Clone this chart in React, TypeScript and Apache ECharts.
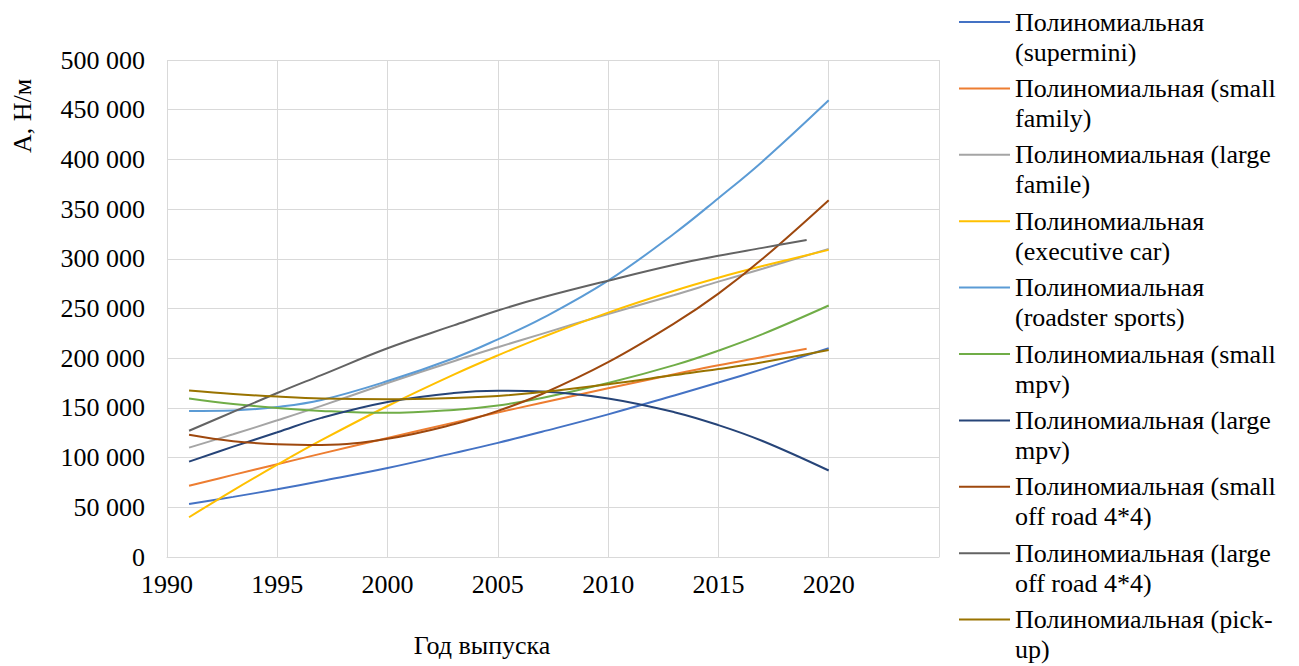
import React, { useEffect, useRef } from "react";
import * as echarts from "echarts";

const FONT = "'Liberation Serif', 'Times New Roman', serif";

const yearsFull = [1991, 1993, 1995, 1997, 2000, 2003, 2005, 2007, 2010, 2013, 2015, 2017, 2020];
const yearsTo2019 = [1991, 1993, 1995, 1997, 2000, 2003, 2005, 2007, 2010, 2013, 2015, 2017, 2019];

const seriesNames = [
  "Полиномиальная (supermini)",
  "Полиномиальная (small family)",
  "Полиномиальная (large famile)",
  "Полиномиальная (executive car)",
  "Полиномиальная (roadster sports)",
  "Полиномиальная (small mpv)",
  "Полиномиальная (large mpv)",
  "Полиномиальная (small off road 4*4)",
  "Полиномиальная (large off road 4*4)",
  "Полиномиальная (pick-up)",
];

const legendLabels = [
  "Полиномиальная\n(supermini)",
  "Полиномиальная (small\nfamily)",
  "Полиномиальная (large\nfamile)",
  "Полиномиальная\n(executive car)",
  "Полиномиальная\n(roadster sports)",
  "Полиномиальная (small\nmpv)",
  "Полиномиальная (large\nmpv)",
  "Полиномиальная (small\noff road 4*4)",
  "Полиномиальная (large\noff road 4*4)",
  "Полиномиальная (pick-\nup)",
];

const colors = [
  "#4472C4",
  "#ED7D31",
  "#A5A5A5",
  "#FFC000",
  "#5B9BD5",
  "#70AD47",
  "#264478",
  "#9E480E",
  "#636363",
  "#997300",
];

const supermini = [53300, 60500, 68200, 76500, 89500, 104500, 114800, 126000, 143500, 162500, 175500, 189000, 210000];
const smallFamily = [71600, 82600, 93400, 104000, 119700, 135200, 145300, 155200, 169700, 183800, 193000, 201200, 209500];
const largeFamile = [110000, 123500, 137500, 152000, 175000, 197000, 211000, 224500, 244500, 263500, 277000, 290000, 310000];
const executiveCar = [40000, 67100, 92900, 117500, 151900, 183500, 202900, 221000, 245900, 267900, 281000, 292700, 309000];
const roadsterSports = [147000, 147500, 151000, 158000, 177000, 200000, 219000, 240000, 278000, 325500, 361000, 398000, 459500];
const smallMpv = [159500, 154000, 150000, 147000, 145000, 148000, 152500, 160000, 175000, 193000, 207600, 224200, 253000];
const largeMpv = [96000, 111000, 125500, 140000, 156000, 165000, 167300, 166500, 159500, 145700, 132700, 116700, 87000];
const smallOffRoad = [123000, 116500, 113500, 112800, 119000, 133500, 147000, 164000, 196000, 235000, 265000, 300000, 359000];
const largeOffRoad = [127000, 146000, 165000, 183000, 210000, 233000, 248000, 261000, 278000, 294000, 303000, 311000, 319000];
const pickUp = [167500, 164000, 161400, 159500, 158700, 160000, 162000, 166000, 173900, 183000, 189100, 196000, 208300];

const seriesValues = [
  supermini,
  smallFamily,
  largeFamile,
  executiveCar,
  roadsterSports,
  smallMpv,
  largeMpv,
  smallOffRoad,
  largeOffRoad,
  pickUp,
];
const seriesYears = [
  yearsFull,
  yearsTo2019,
  yearsFull,
  yearsFull,
  yearsFull,
  yearsFull,
  yearsFull,
  yearsFull,
  yearsTo2019,
  yearsFull,
];

const fmt = (v: number) =>
  String(v).replace(/\B(?=(\d{3})+(?!\d))/g, " ");

export default function App() {
  const ref = useRef<HTMLDivElement>(null);
  useEffect(() => {
    if (!ref.current) return;
    const chart = echarts.init(ref.current, null, { renderer: "svg" });
    const labelMap: Record<string, string> = {};
    seriesNames.forEach((n, i) => (labelMap[n] = legendLabels[i]));
    chart.setOption({
      animation: false,
      backgroundColor: "#fff",
      color: colors,
      grid: { left: 167, right: 360, top: 60, bottom: 109, containLabel: false },
      xAxis: {
        type: "value",
        min: 1990,
        max: 2025,
        interval: 5,
        axisLine: { show: true, lineStyle: { color: "#d9d9d9", width: 1 } },
        axisTick: { show: false },
        splitLine: { show: true, lineStyle: { color: "#d9d9d9", width: 1 } },
        axisLabel: {
          margin: 14,
          color: "#000",
          fontFamily: FONT,
          fontSize: 26,
          formatter: (v: number) => (v === 2025 ? "" : String(v)),
        },
      },
      yAxis: {
        type: "value",
        min: 0,
        max: 500000,
        interval: 50000,
        axisLine: { show: false },
        axisTick: { show: false },
        splitLine: { show: true, lineStyle: { color: "#d9d9d9", width: 1 } },
        axisLabel: {
          margin: 22,
          color: "#000",
          fontFamily: FONT,
          fontSize: 26,
          formatter: (v: number) => fmt(v),
        },
      },
      legend: {
        orient: "vertical",
        left: 959,
        top: 7,
        height: 700,
        padding: 0,
        itemWidth: 51,
        itemHeight: 60,
        itemGap: 6.4,
        icon: "path://M0,0L0,0M51,60L51,60M0,14L51,14L51,16L0,16Z",
        itemStyle: { borderWidth: 0 },
        textStyle: {
          fontFamily: FONT,
          fontSize: 26,
          lineHeight: 30,
          color: "#000",
        },
        formatter: (name: string) => labelMap[name] || name,
        data: seriesNames,
      },
      graphic: [
        {
          type: "text",
          x: 22,
          y: 116,
          rotation: Math.PI / 2,
          style: {
            text: "А, Н/м",
            font: `26px ${FONT}`,
            fill: "#000",
            align: "center",
            verticalAlign: "middle",
          },
        },
        {
          type: "text",
          x: 482,
          y: 645,
          style: {
            text: "Год выпуска",
            font: `26px ${FONT}`,
            fill: "#000",
            align: "center",
            verticalAlign: "middle",
          },
        },
      ],
      series: seriesNames.map((name, i) => ({
        name,
        type: "line",
        smooth: 0.4,
        symbol: "none",
        color: colors[i],
        lineStyle: { width: 2, color: colors[i] },
        data: seriesYears[i].map((y, j) => [y, seriesValues[i][j]]),
      })),
    });
    return () => chart.dispose();
  }, []);
  return (
    <div
      ref={ref}
      style={{ position: "fixed", left: 0, top: 0, width: "1299px", height: "666px" }}
    />
  );
}
